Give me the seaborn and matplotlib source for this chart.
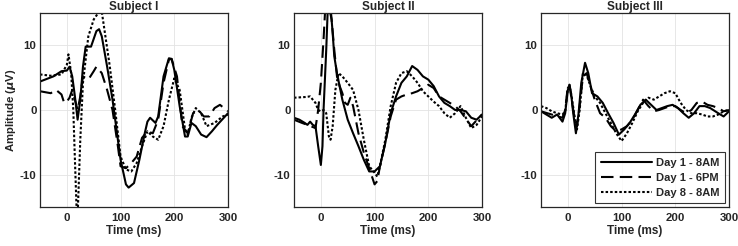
import numpy as np
import pandas as pd
import seaborn as sns
import matplotlib
matplotlib.use("Agg")
import matplotlib.pyplot as plt

# ==============================================================================
# DATA
# ==============================================================================
conditions = ["Day 1 - 8AM", "Day 1 - 6PM", "Day 8 - 8AM"]
subjects = ["Subject I", "Subject II", "Subject III"]

# Subject I
s1_t_8am = [-50, -25, -10, 0, 5, 10, 15, 20, 25, 30, 35, 45, 55, 60, 65, 75, 85, 95, 100, 110, 115, 125,
            135, 145, 150, 155, 165, 170, 180, 190, 195, 200, 210, 220, 225, 232, 240, 250, 260, 270, 280, 300]
s1_v_8am = [4.4, 5.2, 6.0, 6.1, 6.7, 5.2, 2.1, -1.5, 1.6, 6.7, 9.8, 9.8, 12.2, 12.5, 11.4, 6.7, 1.6, -4.6,
            -7.7, -11.5, -12.0, -11.3, -7.7, -3.6, -1.8, -1.2, -2.0, -1.0, 5.2, 8.0, 7.9, 6.2, 0.6, -4.1,
            -4.1, -2.0, -2.5, -3.8, -4.2, -3.3, -2.3, -0.5]
s1_t_6pm = [-50, -30, -20, -10, -5, 0, 5, 10, 15, 20, 25, 30, 40, 50, 55, 65, 75, 85, 95, 100, 110, 120,
            130, 140, 150, 160, 170, 180, 190, 195, 205, 215, 225, 235, 245, 255, 265, 275, 285, 300]
s1_v_6pm = [2.9, 2.6, 3.1, 2.4, 1.1, 1.3, 1.9, 3.1, 1.6, 0.0, 2.1, 5.2, 4.7, 6.0, 6.7, 5.7, 3.1, 0.0, -5.6,
            -8.7, -9.0, -8.2, -7.2, -4.3, -3.3, -3.6, -1.5, 4.2, 7.8, 7.9, 5.2, -2.5, -3.6, -0.5, 0.0,
            -1.0, -1.0, 0.3, 0.8, -0.2]
s1_t_d8 = [-50, -30, -10, 0, 3, 8, 12, 15, 18, 20, 22, 25, 30, 40, 50, 60, 65, 70, 80, 90, 100, 110, 120,
           130, 140, 150, 160, 170, 180, 190, 200, 210, 220, 225, 232, 240, 250, 260, 275, 290, 300]
s1_v_d8 = [5.5, 5.3, 5.5, 7.0, 8.6, 5.7, 0.0, -7.7, -15.0, -16.5, -11.8, -4.6, 4.2, 11.4, 14.0, 15.2, 15.2,
           12.4, 6.7, 0.0, -7.2, -9.2, -9.5, -8.2, -5.6, -3.3, -4.1, -4.6, -2.5, 1.6, 4.9, 3.1, -3.0,
           -3.8, -1.2, 0.3, -0.5, -2.5, -2.0, -1.0, -0.7]

# Subject II
s2_t_8am = [-50, -40, -30, -25, -20, -15, -10, -5, 0, 3, 5, 10, 13, 18, 22, 25, 30, 40, 50, 60, 70, 80,
            90, 100, 110, 120, 130, 140, 150, 160, 170, 180, 190, 200, 210, 220, 230, 240, 250, 260,
            270, 280, 290, 300]
s2_v_8am = [-1.2, -1.5, -2.0, -2.3, -1.8, -2.3, -2.5, -5.6, -8.5, -5.6, 0.0, 9.3, 16.0, 16.0, 11.9, 8.3,
            5.7, 1.6, -1.5, -3.6, -5.6, -7.7, -9.5, -9.5, -8.7, -5.1, -0.5, 2.1, 4.2, 5.2, 6.8, 6.2, 5.2,
            4.7, 3.7, 2.1, 1.1, 0.6, 0.0, 0.0, -0.2, -1.2, -1.5, -0.7]
s2_t_6pm = [-50, -35, -25, -10, -5, 0, 5, 8, 15, 20, 25, 30, 35, 40, 45, 50, 55, 60, 70, 80, 90, 100, 105,
            110, 120, 130, 140, 150, 160, 170, 180, 190, 200, 210, 220, 230, 240, 250, 260, 280, 300]
s2_v_6pm = [-1.5, -2.0, -2.3, -2.8, 0.0, 4.2, 10.9, 15.5, 16.0, 14.0, 9.3, 5.2, 3.7, 2.6, 1.1, 0.8, 1.9,
            0.6, -3.6, -6.6, -9.0, -11.5, -11.0, -8.7, -5.1, -1.0, 1.6, 2.1, 2.4, 2.6, 2.9, 3.4, 3.9, 3.4,
            2.1, 1.6, 1.1, 0.6, -0.2, -2.5, -0.7]
s2_t_d8 = [-50, -30, -20, -10, -5, 0, 5, 10, 15, 18, 22, 27, 33, 40, 50, 60, 70, 80, 90, 100, 105, 110,
           120, 130, 140, 150, 160, 170, 180, 190, 200, 210, 220, 230, 240, 250, 260, 270, 280, 290, 300]
s2_v_d8 = [1.9, 2.0, 2.1, 1.1, 0.0, -0.2, 0.0, -0.5, -4.1, -4.6, -2.5, 3.1, 5.7, 5.2, 4.2, 3.1, 0.0, -4.6,
           -8.7, -9.7, -10.3, -8.7, -4.6, 0.6, 4.2, 5.7, 6.0, 5.2, 4.2, 2.9, 2.1, 1.3, 0.6, -0.5, -1.2,
           -0.5, 0.6, -1.2, -2.8, -2.3, -1.0]

# Subject III
s3_t_8am = [-50, -40, -30, -20, -10, -5, 0, 3, 6, 10, 15, 20, 25, 32, 38, 45, 55, 65, 75, 85, 95, 105,
            115, 125, 135, 145, 155, 165, 175, 185, 195, 205, 215, 225, 235, 245, 255, 265, 280, 290, 300]
s3_v_8am = [-0.2, -0.7, -1.2, -0.7, -1.8, -0.5, 3.1, 3.9, 2.6, -0.5, -3.6, -0.5, 4.2, 7.3, 5.7, 2.6, 2.1,
            1.1, -0.5, -2.0, -3.8, -3.0, -2.0, -0.7, 0.8, 1.6, 0.8, 0.0, 0.3, 0.6, 0.8, 0.3, -0.5, -1.2,
            -0.5, 0.6, 0.6, 0.3, -0.5, -1.0, -0.2]
s3_t_6pm = [-50, -30, -10, -5, 0, 3, 7, 12, 17, 22, 28, 35, 42, 50, 60, 70, 80, 90, 100, 110, 120, 130,
            140, 150, 160, 170, 180, 190, 200, 210, 220, 230, 240, 250, 260, 270, 280, 290, 300]
s3_v_6pm = [-0.2, -0.7, -1.2, 0.0, 3.7, 3.9, 1.6, -1.0, -2.5, 0.6, 5.2, 5.7, 3.7, 1.6, -0.5, -1.2, -2.5,
            -3.3, -3.0, -2.5, -1.5, 0.0, 1.6, 0.6, -0.2, 0.0, 0.3, 0.6, 0.6, 0.0, -0.5, 0.0, 1.1, 1.3, 0.8,
            0.6, 0.3, -0.2, 0.0]
s3_t_d8 = [-50, -40, -30, -20, -10, -5, 0, 3, 7, 12, 17, 22, 28, 35, 42, 50, 60, 70, 80, 90, 100, 110,
           120, 130, 140, 150, 160, 170, 180, 190, 200, 210, 220, 230, 240, 250, 260, 270, 280, 290, 300]
s3_v_d8 = [0.6, 0.3, -0.2, -0.5, -0.7, -0.2, 3.4, 3.7, 2.1, -0.7, -3.0, 0.0, 5.7, 5.4, 3.7, 2.1, 1.1, -0.5,
           -2.0, -3.6, -4.8, -3.6, -2.0, -0.2, 1.1, 1.9, 1.6, 2.1, 2.6, 2.9, 2.6, 1.1, 0.0, -0.5, -0.5,
           -0.7, -1.0, -1.0, -0.7, -0.2, 0.0]

x_ticks = [0, 100, 200, 300]
y_ticks = [-10, 0, 10]

series = {
    "Subject I": [(s1_t_8am, s1_v_8am), (s1_t_6pm, s1_v_6pm), (s1_t_d8, s1_v_d8)],
    "Subject II": [(s2_t_8am, s2_v_8am), (s2_t_6pm, s2_v_6pm), (s2_t_d8, s2_v_d8)],
    "Subject III": [(s3_t_8am, s3_v_8am), (s3_t_6pm, s3_v_6pm), (s3_t_d8, s3_v_d8)],
}

# ==============================================================================
# PLOT
# ==============================================================================
sns.set_style("whitegrid", {"grid.color": "#e3e3e3", "axes.edgecolor": "#262626"})
plt.rcParams["font.family"] = ["Liberation Sans", "DejaVu Sans"]
plt.rcParams["font.weight"] = "bold"
plt.rcParams["mathtext.default"] = "it"
plt.rcParams["axes.unicode_minus"] = False

line_styles = {
    "Day 1 - 8AM": dict(linestyle="-", linewidth=1.5),
    "Day 1 - 6PM": dict(linestyle=(0, (6, 3)), linewidth=1.5),
    "Day 8 - 8AM": dict(linestyle=(0, (1.2, 1.0)), linewidth=1.5),
}

fig = plt.figure(figsize=(7.38, 2.46), dpi=100)
lefts = [40 / 738, 294 / 738, 541 / 738]
w, h, b = 188 / 738, 194 / 246, 1 - 207 / 246

for i, subj in enumerate(subjects):
    ax = fig.add_axes([lefts[i], b, w, h])
    for cond, (t, v) in zip(conditions, series[subj]):
        df = pd.DataFrame({"time": t, "amp": v})
        sns.lineplot(data=df, x="time", y="amp", ax=ax, color="black",
                     label=cond, legend=False, **line_styles[cond])
    ax.set_xlim(-50, 300)
    ax.set_ylim(-15, 15)
    ax.set_xticks(x_ticks)
    ax.set_yticks(y_ticks)
    ax.tick_params(labelsize=8.2, length=2.5, direction="in", colors="#262626")
    ax.tick_params(axis="x", pad=4)
    ax.tick_params(axis="y", pad=2.5)
    for sp in ax.spines.values():
        sp.set_linewidth(0.9)
    ax.grid(True, linewidth=0.6)
    ax.set_title(subj, fontsize=8.5, fontweight="bold", pad=2)
    ax.set_xlabel("Time (ms)", fontsize=8.5, fontweight="bold", labelpad=2)
    if i == 0:
        ax.set_ylabel(r"Amplitude ($\mu$V)", fontsize=8.2, fontweight="bold", labelpad=1)
    else:
        ax.set_ylabel("")
    if i == 2:
        leg = ax.legend(loc="lower right", fontsize=8, handlelength=4.6, frameon=True,
                        fancybox=False, edgecolor="black", borderpad=0.5, labelspacing=0.45,
                        handletextpad=0.4, borderaxespad=0.35)
        leg.get_frame().set_linewidth(0.8)
        for txt in leg.get_texts():
            txt.set_fontweight("bold")

fig.savefig("out.png", dpi=100)
plt.close(fig)
